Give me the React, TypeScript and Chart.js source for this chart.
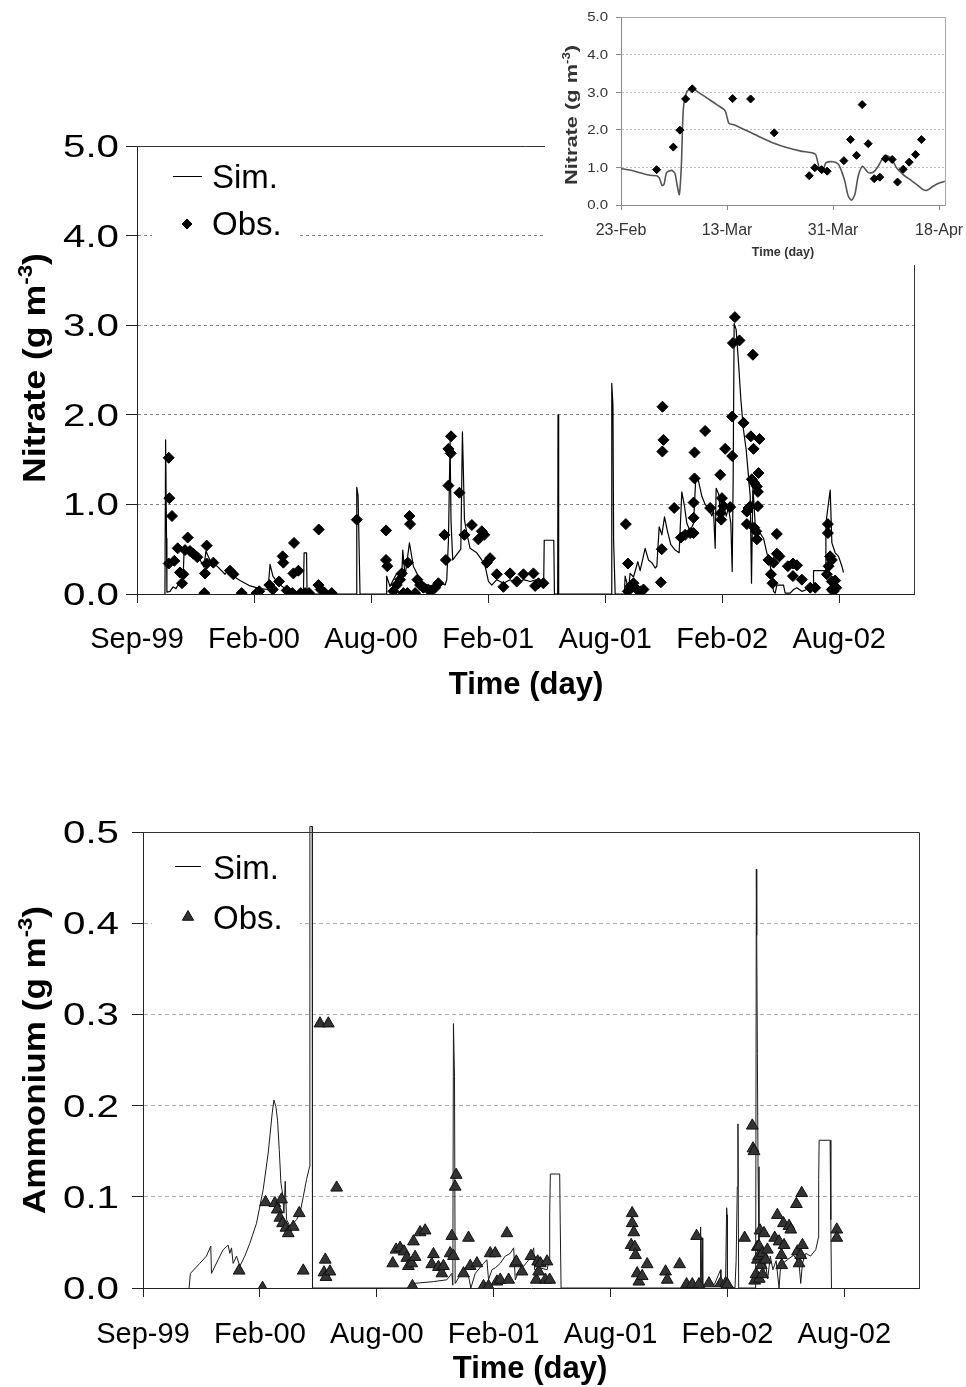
import React, { useEffect, useRef } from 'react';
import { Chart, registerables } from 'chart.js';

Chart.register(...registerables);

const FONT = '"Liberation Sans", Arial, Helvetica, sans-serif';

// ---------- Main time axis: days since 1 Sep 1999 (major unit 180 days) ----------
const timeTickDays = [0, 180, 360, 540, 720, 900, 1080];
const timeTickLabels = ['Sep-99', 'Feb-00', 'Aug-00', 'Feb-01', 'Aug-01', 'Feb-02', 'Aug-02'];
const timeAxisMax = 1195;

const nitrateTickValues = [0, 1, 2, 3, 4, 5];
const nitrateTickLabels = ['0.0', '1.0', '2.0', '3.0', '4.0', '5.0'];
const ammoniumTickValues = [0, 0.1, 0.2, 0.3, 0.4, 0.5];
const ammoniumTickLabels = ['0.0', '0.1', '0.2', '0.3', '0.4', '0.5'];

// ---------- Nitrate, simulated ----------
const nitrateSimDays = [
  43, 44, 45.4, 46, 50.8, 55.4, 60, 64.6, 70.8, 72.3, 78.5, 86, 97, 103, 106, 112, 124.6, 135.4, 140, 147.7,
  158.5, 174, 189, 201.5, 204.6, 209, 217, 227.7, 243, 256, 257, 260.8, 261.5, 337, 338, 340, 343, 383,
  384, 389, 399.5, 407, 408.7, 412.3, 419, 425, 435.4, 445.6, 455.9, 468.7, 473.8, 476.4, 479, 481.5, 483, 485.6,
  498, 500.5, 502, 503.6, 507.2, 512.3, 522.5, 530.2, 535.4, 540.5, 545.6, 553.3, 563.6, 573.8, 584.1, 594.3,
  604.6, 614.9, 625.5, 626.3, 641, 642, 647, 647.5, 648.5, 729.5, 730.2, 732, 733, 735.4, 749.7,
  750.7, 755.9, 758.4, 763.6, 770.2, 773.8, 781.5, 786.6, 791.8, 796.9, 799.5, 803.1, 807.2, 811.3, 815.9,
  821, 827.7, 833.8, 837.9, 842, 845.6, 850.7, 855.9, 859.5, 863.6, 868.7, 873.8, 879, 884.1, 886.6,
  889.2, 890.7, 894.8, 897.9, 902, 906.1, 909.7, 913.3, 915.4, 916.9, 918.4, 921.5, 925.1, 928.7, 932.8,
  936.9, 940.5, 943.1, 945.1, 947.2, 950.7, 954.3, 958.4, 963.6, 968.7, 972.8, 976.4, 978.9, 981.5, 984.1,
  994.3, 996.9, 1004.6, 1009.7, 1014.8, 1022.5, 1030.2, 1040, 1040.5, 1058.4, 1059.5, 1066.1, 1068.7, 1073.8,
  1078.9, 1084.1, 1086.6,
];
const nitrateSimValues = [
  0, 1.72, 0.62, 0.02, 0.03, 0.08, 0.06, 0.12, 0.15, 0.46, 0.5, 0.46, 0.38, 0.3, 0.48, 0.38, 0.3, 0.22, 0.27, 0.2,
  0.15, 0.09, 0.06, 0.05, 0.33, 0.2, 0.12, 0.06, 0.03, 0.02, 0.46, 0.46, 0, 0, 1.19, 1.1, 0, 0,
  0.2, 0.085, 0.23, 0.16, 0.49, 0.2, 0.57, 0.31, 0.16, 0.1, 0.085, 0.12, 0.1, 0.16, 0.6, 1.7, 0.8, 0.38,
  0.5, 1.81, 1.35, 0.83, 0.68, 0.51, 0.46, 0.38, 0.31, 0.14, 0.1, 0.16, 0.12, 0.16, 0.12, 0.16,
  0.14, 0.16, 0.14, 0.6, 0.6, 0, 0, 2.0, 0, 0, 2.35, 2.1, 0.6, 0, 0,
  0.2, 0.05, 0.23, 0.19, 0.36, 0.26, 0.51, 0.38, 0.35, 0.29, 0.31, 0.75, 0.66, 0.86, 0.7,
  0.55, 0.49, 0.46, 1.14, 0.98, 0.79, 0.7, 0.79, 1.31, 1.26, 1.09, 1.0, 0.96, 0.87, 0.94,
  0.51, 1.18, 1.11, 0.79, 1.01, 0.87, 0.96, 0.79, 0.25, 1.31, 3.02, 2.95, 2.58, 2.17, 1.83,
  1.61, 1.31, 1.09, 0.12, 1.2, 0.79, 0.64, 0.68, 0.62, 0.46, 0.35, 0.22, 0.03, 0.01, 0.1,
  0.1, 0.01, 0.01, 0.05, 0.07, 0.03, 0.05, 0.05, 0.26, 0.26, 0.79, 1.16, 0.57, 0.46,
  0.42, 0.31, 0.24,
];

// ---------- Nitrate, observed ----------
const nitrateObsDays = [
  48.8, 48.8, 49.7, 53.8, 57.4, 62.6, 66, 69.2, 71.3, 73.8, 78, 81.5, 86.6, 92.8, 103.5, 104.6, 107.2, 107.2, 117.4, 143,
  148.2, 161, 184, 188, 203.5, 208.8, 218.5, 224, 225, 230.3, 239, 240.5, 241.5, 248.2, 251.8, 258.5, 264.6, 279, 279.5, 282.6,
  289, 299.5, 338,
  383, 383, 385, 394.3, 399.5, 404.6, 407.2, 409.7, 415.8, 416.5, 419, 420, 427.7, 431.2, 435.4, 440.5, 448, 453.3, 458.5, 463.5,
  472.8, 475, 479, 479, 482.6, 483, 495.9, 503.6, 515, 525, 530.3, 534, 538, 543, 553.4, 563.5, 573.8, 584, 594.3, 609.7,
  612.3, 617.4, 625,
  751.8, 755, 755, 758.5, 763.6, 768.8, 774, 779, 805.7, 807, 808, 808.2, 809.7, 826.2, 836.5, 843, 850.8, 856, 856, 856,
  857.5, 857.5, 873.8, 881.5, 897, 897.5, 898.5, 899.6, 902, 904.6, 912.3, 915.4, 915.4, 916.5, 919.5, 926.6, 932.8, 938, 938, 940.5,
  943.1, 944.1, 945.6, 947.2, 948.2, 949.2, 949.2, 952.3, 953.3, 953.3, 954.9, 954.9, 955.9, 957.4, 971.2, 975, 977.4, 979, 984, 984,
  988, 1001, 1008.8, 1008.8, 1015, 1022.6, 1035.4, 1043, 1061, 1062.6, 1062.6, 1063.6, 1066, 1068.6, 1068.6, 1068.6, 1071.2, 1073.7, 1075.4,
];
const nitrateObsValues = [
  1.52, 0.34, 1.07, 0.87, 0.37, 0.51, 0.24, 0.12, 0.22, 0.49, 0.63, 0.48, 0.45, 0.41, 0.01, 0.23, 0.54, 0.34, 0.35, 0.26,
  0.22, 0.01, 0.01, 0.03, 0.1, 0.05, 0.14, 0.42, 0.35, 0.04, 0.01, 0.23, 0.57, 0.26, 0.01, 0.01, 0.01, 0.1, 0.72, 0.05,
  0.01, 0.01, 0.83,
  0.71, 0.38, 0.31, 0.03, 0.1, 0.16, 0.23, 0.01, 0.01, 0.35, 0.87, 0.78, 0.01, 0.16, 0.1, 0.07, 0.05, 0.04, 0.07, 0.12,
  0.66, 0.38, 1.21, 1.62, 1.57, 1.76, 1.13, 0.66, 0.77, 0.61, 0.7, 0.66, 0.35, 0.4, 0.22, 0.08, 0.23, 0.14, 0.22, 0.23,
  0.09, 0.12, 0.12,
  0.78, 0.34, 0.03, 0.085, 0.12, 0.05, 0.03, 0.05, 0.13, 0.5, 1.59, 2.09, 1.72, 0.96, 0.63, 0.66, 0.68, 0.68, 0.85, 1.02,
  1.29, 1.58, 1.82, 0.96, 1.33, 0.9, 0.83, 1.07, 0.98, 1.62, 0.97, 1.54, 1.98, 2.8, 3.09, 2.83, 1.91, 0.92, 0.78, 0.96,
  0.98, 1.76, 1.28, 2.67, 1.62, 1.24, 0.74, 0.7, 1.2, 0.61, 1.14, 0.98, 1.35, 1.73, 0.38, 0.22, 0.12, 0.35, 0.67, 0.45,
  0.42, 0.31, 0.34, 0.2, 0.32, 0.16, 0.07, 0.07, 0.22, 0.78, 0.68, 0.31, 0.42, 0.38, 0.14, 0.05, 0.03, 0.15, 0.07,
];

// ---------- Inset: days since 23 Feb 2002 ----------
const insetTickDays = [0, 18, 36, 54];
const insetTickLabels = ['23-Feb', '13-Mar', '31-Mar', '18-Apr'];
const insetAxisMax = 55;
const insetSimDays = [
  0, 1.53, 3.23, 4.92, 6.05, 6.5, 6.96, 7.3, 7.75, 8.6, 9.16, 9.56, 9.9, 10.24, 10.58, 11.14, 11.99, 12.84, 14.53, 16.23,
  17.65, 18.32, 19.06, 21.32, 23.58, 25.85, 28.11, 30.37, 32.63, 33.08, 33.65, 34.21, 34.78, 36.02, 36.87, 37.44, 38.0, 38.57, 39.13, 39.7,
  40.27, 41.0, 41.96, 42.81, 43.66, 44.79, 45.92, 46.77, 47.9, 49.03, 50.16, 51.29, 51.97, 52.99, 54.12, 54.97,
];
const insetSimValues = [
  0.97, 0.93, 0.86, 0.79, 0.78, 0.72, 0.52, 0.55, 0.86, 0.92, 0.84, 0.5, 0.28, 1.03, 2.54, 3.0, 3.11, 3.03, 2.85, 2.67,
  2.51, 2.17, 2.14, 1.98, 1.81, 1.65, 1.53, 1.44, 1.38, 1.33, 0.99, 0.86, 1.12, 1.15, 1.09, 0.9, 0.63, 0.24, 0.13, 0.28,
  0.77, 1.03, 0.86, 0.87, 1.03, 1.32, 1.23, 0.99, 0.81, 0.68, 0.55, 0.41, 0.39, 0.5, 0.59, 0.63,
];
const insetObsDays = [
  6.05, 8.88, 10.0, 10.97, 12.1, 18.95, 22.0, 26.0, 31.95, 32.9, 34.05, 35.0, 37.83, 38.96, 39.98, 40.94, 41.96, 42.98, 43.94, 44.9,
  46.03, 46.94, 47.9, 48.92, 50.0, 51.0,
];
const insetObsValues = [
  0.94, 1.54, 1.99, 2.82, 3.09, 2.83, 2.82, 1.92, 0.78, 0.99, 0.94, 0.9, 1.18, 1.74, 1.32, 2.67, 1.63, 0.7, 0.74, 1.23,
  1.21, 0.61, 0.95, 1.14, 1.34, 1.74,
];

// ---------- Ammonium, simulated ----------
const ammoniumSimDays = [
  71, 73, 87.4, 97.7, 104.4, 105.4, 115.7, 123.4, 131.1, 133.7, 136.3, 138.8, 144, 149.1, 156.8, 164.5, 174.8, 185.1, 192.8, 199,
  201.6, 204.6, 207.2, 209.8, 212.4, 214.9, 217, 219, 221.1, 226.2, 231.4, 236.5, 241.7, 246.8, 251.9, 256.5, 257, 260.5, 261, 414,
  416.5, 447.3, 467.9, 475.6, 477.1, 478.1, 479.7, 480.7, 485.9, 493.6, 501.3, 504.9, 511.6, 524.4, 529.6, 532.1, 537.3, 542.4, 550.1, 557.8,
  565.5, 570.8, 573.3, 578.5, 586.2, 596.5, 601.6, 603.2, 611.9, 622.2, 625.5, 626.3, 627.3, 641.7, 642.5, 643.8, 835,
  838, 858.3, 858.7, 859.5, 861, 862, 880, 889.5, 890, 897, 898.8, 899.5, 900, 911.6, 913.4, 915.2, 916.2, 917.3, 943.5, 944.5,
  945.1, 946.1, 947.1, 948.6, 952, 955, 958, 962, 966, 970, 975, 979.5, 982, 992.3, 1002, 1010.3, 1012.9, 1015.5, 1020.6, 1028,
  1036, 1040.1, 1040.5, 1041.2, 1058.1, 1059.2, 1060.2,
];
const ammoniumSimValues = [
  0, 0.016, 0.027, 0.035, 0.046, 0.016, 0.031, 0.042, 0.047, 0.038, 0.044, 0.027, 0.035, 0.024, 0.035, 0.049, 0.071, 0.108, 0.148, 0.192,
  0.206, 0.199, 0.184, 0.152, 0.115, 0.104, 0.082, 0.117, 0.075, 0.068, 0.071, 0.075, 0.082, 0.1, 0.119, 0.133, 0.506, 0.506, 0, 0,
  0.005, 0.007, 0.009, 0.016, 0.003, 0.29, 0.232, 0.005, 0.011, 0.02, 0.013, 0, 0.016, 0.027, 0.031, 0.009, 0.02, 0.022, 0.027, 0.035,
  0.038, 0.044, 0.009, 0.018, 0.024, 0.033, 0.044, 0.02, 0.022, 0.02, 0.03, 0.08, 0.125, 0.125, 0.072, 0, 0,
  0.003, 0.003, 0.067, 0.003, 0.055, 0.003, 0.004, 0.02, 0.004, 0.003, 0.088, 0.08, 0.004, 0, 0.03, 0.111, 0.18, 0, 0, 0.459,
  0.387, 0.257, 0.133, 0.042, 0.04, 0.015, 0.03, 0.01, 0.035, 0.02, 0.03, 0, 0.025, 0.031, 0.036, 0.027, 0.005, 0.027, 0.038, 0.035,
  0.042, 0.055, 0.119, 0.162, 0.162, 0.075, 0,
];

// ---------- Ammonium, observed ----------
const ammoniumObsDays = [
  148.1, 184.1, 188.7, 203.1, 206.7, 210.8, 213.4, 214.9, 220.1, 223.7, 231.4, 240.6, 246.8, 272.5, 278.7, 280.7, 281.8, 285.4, 287.9, 298.2,
  384.6, 389.7, 395.9, 402, 406.2, 408.7, 413.9, 414.9, 416.5, 419, 426.7, 434.5, 444.7, 447.3, 455, 460.2, 462.7, 473, 475.6, 478.1,
  480.7, 482.3, 493.6, 501.3, 503.9, 514.2, 524.4, 532.1, 534.7, 542.4, 545, 550.1, 560.4, 563, 573.3, 574.9, 583.6, 597.5, 605.7, 607.8,
  609.3, 611.9, 619.6, 622.2, 626.3,
  751.7, 753.3, 753.3, 755.8, 757.4, 758.4, 761, 763.6, 768.7, 776.4, 804.7, 807.3, 826.3, 837.1, 845.8, 852.5, 856.1, 871.5, 889.5, 897.2,
  899.8, 926.5, 938.3, 939.4, 940.9, 942, 944, 946, 946.1, 948, 948.6, 949, 950.2, 952, 953.8, 954, 956.3, 958.9, 961.5, 972.8,
  976.9, 979.5, 983.1, 983.6, 986.2, 987.2, 994.9, 997.5, 1006.2, 1007.8, 1010.3, 1012.9, 1014.4, 1015.5, 1068.4, 1068.4,
];
const ammoniumObsValues = [
  0.019, 0.0, 0.094, 0.093, 0.086, 0.077, 0.097, 0.071, 0.066, 0.06, 0.067, 0.082, 0.019, 0.29, 0.017, 0.031, 0.012, 0.29, 0.018, 0.11,
  0.027, 0.042, 0.044, 0.04, 0.033, 0.024, 0.027, 0.002, 0.051, 0.034, 0.061, 0.063, 0.026, 0.037, 0.023, 0.016, 0.024, 0.038, 0.057, 0.035,
  0.111, 0.124, 0.016, 0.055, 0.024, 0.027, 0.002, 0.002, 0.038, 0.038, 0.007, 0.009, 0.06, 0.009, 0.027, 0.029, 0.018, 0.035, 0.009, 0.029,
  0.018, 0.027, 0.009, 0.029, 0.009,
  0.047, 0.082, 0.071, 0.061, 0.045, 0.036, 0.016, 0.007, 0.013, 0.026, 0.018, 0.009, 0.026, 0.004, 0.004, 0.057, 0.004, 0.005, 0.005, 0.005,
  0.004, 0.055, 0.178, 0.153, 0.15, 0.008, 0.015, 0.045, 0.031, 0.035, 0.046, 0.01, 0.063, 0.025, 0.038, 0.015, 0.06, 0.031, 0.042, 0.055,
  0.08, 0.051, 0.036, 0.025, 0.071, 0.047, 0.068, 0.064, 0.092, 0.04, 0.027, 0.036, 0.104, 0.047, 0.064, 0.055,
];

// ---------- helpers ----------
const pts = (xs: number[], ys: number[]) => xs.map((x, i) => ({ x, y: ys[i] }));

function capText(
  ctx: CanvasRenderingContext2D, s: string, x: number, cy: number, size: number,
  align: CanvasTextAlign, sx = 1, bold = false, color = '#000'
) {
  ctx.save();
  ctx.font = `${bold ? 'bold ' : ''}${size}px ${FONT}`;
  ctx.fillStyle = color;
  ctx.textAlign = align;
  ctx.textBaseline = 'alphabetic';
  ctx.translate(x, cy + size * 0.358);
  ctx.scale(sx, 1);
  ctx.fillText(s, 0, 0);
  ctx.restore();
}

function rotatedTitle(
  ctx: CanvasRenderingContext2D, cx: number, cy: number, pre: string, sup: string, post: string,
  size: number, length: number, color = '#000'
) {
  ctx.save();
  ctx.translate(cx, cy);
  ctx.rotate(-Math.PI / 2);
  const big = `bold ${size}px ${FONT}`;
  const small = `bold ${Math.round(size * 0.62)}px ${FONT}`;
  ctx.font = big;
  const w1 = ctx.measureText(pre).width;
  const w3 = ctx.measureText(post).width;
  ctx.font = small;
  const w2 = ctx.measureText(sup).width;
  const total = w1 + w2 + w3;
  ctx.scale(length / total, 1);
  ctx.fillStyle = color;
  ctx.textAlign = 'left';
  ctx.textBaseline = 'alphabetic';
  const base = size * 0.358;
  let x = -total / 2;
  ctx.font = big; ctx.fillText(pre, x, base); x += w1;
  ctx.font = small; ctx.fillText(sup, x, base - size * 0.42); x += w2;
  ctx.font = big; ctx.fillText(post, x, base);
  ctx.restore();
}

function marker(ctx: CanvasRenderingContext2D, kind: 'diamond' | 'triangle', x: number, y: number, r: number, fill: string, stroke: string) {
  ctx.save();
  ctx.beginPath();
  if (kind === 'diamond') {
    ctx.moveTo(x, y - r); ctx.lineTo(x + r, y); ctx.lineTo(x, y + r); ctx.lineTo(x - r, y);
  } else {
    const h = r * Math.sin(Math.PI / 3);
    ctx.moveTo(x, y - r); ctx.lineTo(x + h, y + r / 2); ctx.lineTo(x - h, y + r / 2);
  }
  ctx.closePath();
  ctx.fillStyle = fill; ctx.fill();
  ctx.strokeStyle = stroke; ctx.lineWidth = 1; ctx.stroke();
  ctx.restore();
}

function frame(ctx: CanvasRenderingContext2D, a: any, color: string) {
  ctx.save();
  ctx.strokeStyle = color;
  ctx.lineWidth = 1;
  const t = Math.round(a.top) + 0.5;
  const r = Math.round(a.right) + 0.5;
  ctx.beginPath();
  ctx.moveTo(Math.round(a.left), t);
  ctx.lineTo(r, t);
  ctx.lineTo(r, Math.round(a.bottom) + 1);
  ctx.stroke();
  ctx.restore();
}

function yScale(max: number, step: number, gridColor: string, dash: number[], axisColor: string, tickLen: number, width: number) {
  return {
    min: 0,
    max,
    ticks: { display: false, stepSize: step },
    grid: {
      color: (c: any) => {
        const v = c.tick ? c.tick.value : 0;
        return v < 1e-9 || v > max - 1e-9 ? 'rgba(0,0,0,0)' : gridColor;
      },
      tickColor: axisColor,
      tickLength: tickLen,
      lineWidth: 1,
      drawTicks: true,
    },
    border: { color: axisColor, width: 1, dash },
    afterFit: (s: any) => { s.width = width; },
  };
}

function xScale(max: number, tickDays: number[], axisColor: string, tickLen: number, height: number) {
  return {
    type: 'linear' as const,
    min: 0,
    max,
    afterBuildTicks: (s: any) => { s.ticks = tickDays.map((v) => ({ value: v })); },
    ticks: { display: false },
    grid: { drawOnChartArea: false, drawTicks: true, tickLength: tickLen, tickColor: axisColor, color: axisColor },
    border: { color: axisColor, width: 1 },
    afterFit: (s: any) => { s.height = height; },
  };
}

// ---------- charts ----------
function buildNitrate(canvas: HTMLCanvasElement) {
  const decor = {
    id: 'nitrateDecor',
    afterDraw(chart: any) {
      const { ctx, chartArea: a, scales } = chart;
      const x = scales.x, y = scales.y;
      frame(ctx, a, '#333');
      nitrateTickValues.forEach((v, i) => capText(ctx, nitrateTickLabels[i], 119, y.getPixelForValue(v), 31, 'right', 1.3));
      timeTickDays.forEach((d, i) => capText(ctx, timeTickLabels[i], x.getPixelForValue(d), 638, 29, 'center'));
      capText(ctx, 'Time (day)', 526, 683, 31, 'center', 1, true);
      rotatedTitle(ctx, 33.5, 368, 'Nitrate (g m', '-3', ')', 32, 230);
      // legend
      ctx.save();
      ctx.fillStyle = '#fff';
      ctx.fillRect(152, 150, 148, 98);
      ctx.strokeStyle = '#000'; ctx.lineWidth = 1;
      ctx.beginPath(); ctx.moveTo(173, 176.5); ctx.lineTo(202, 176.5); ctx.stroke();
      ctx.restore();
      capText(ctx, 'Sim.', 212, 176, 33, 'left');
      marker(ctx, 'diamond', 187, 224, 5, '#000', '#000');
      capText(ctx, 'Obs.', 212, 223, 33, 'left');
    },
  };
  return new Chart(canvas, {
    type: 'scatter',
    data: {
      datasets: [
        {
          label: 'Sim.', data: pts(nitrateSimDays, nitrateSimValues), showLine: true, pointRadius: 0,
          borderColor: '#000', borderWidth: 1.2, borderJoinStyle: 'round', tension: 0, order: 1,
        } as any,
        {
          label: 'Obs.', data: pts(nitrateObsDays, nitrateObsValues), pointStyle: 'rectRot', pointRadius: 5.5,
          backgroundColor: '#000', borderColor: '#000', borderWidth: 1, order: 0,
        } as any,
      ],
    },
    options: {
      responsive: false,
      animation: false,
      events: [],
      layout: { padding: { top: 146, left: 0, right: 52, bottom: 56 } },
      plugins: { legend: { display: false }, tooltip: { enabled: false } },
      scales: {
        x: xScale(timeAxisMax, timeTickDays, '#222', 9, 70),
        y: yScale(5, 1, '#858585', [3, 3], '#222', 11, 137),
      } as any,
    },
    plugins: [decor],
  });
}

function buildInset(canvas: HTMLCanvasElement) {
  const decor = {
    id: 'insetDecor',
    beforeDraw(chart: any) {
      const { ctx, width, height } = chart;
      ctx.save(); ctx.fillStyle = '#fff'; ctx.fillRect(0, 0, width, height); ctx.restore();
    },
    afterDraw(chart: any) {
      const { ctx, chartArea: a, scales } = chart;
      const x = scales.x, y = scales.y;
      frame(ctx, a, '#a8a8a8');
      nitrateTickValues.forEach((v, i) => capText(ctx, nitrateTickLabels[i], 63, y.getPixelForValue(v), 12.5, 'right', 1.2, false, '#333'));
      insetTickDays.forEach((d, i) => capText(ctx, insetTickLabels[i], x.getPixelForValue(d), 229, 16, 'center', 1, false, '#333'));
      capText(ctx, 'Time (day)', 238, 252, 12.5, 'center', 1, true, '#333');
      rotatedTitle(ctx, 26, 115, 'Nitrate (g m', '-3', ')', 16.5, 140, '#333');
    },
  };
  return new Chart(canvas, {
    type: 'scatter',
    data: {
      datasets: [
        {
          label: 'Sim.', data: pts(insetSimDays, insetSimValues), showLine: true, pointRadius: 0,
          borderColor: '#555', borderWidth: 1.6, borderJoinStyle: 'round', tension: 0.25, order: 1,
        } as any,
        {
          label: 'Obs.', data: pts(insetObsDays, insetObsValues), pointStyle: 'rectRot', pointRadius: 4,
          backgroundColor: '#000', borderColor: '#000', borderWidth: 1, order: 0,
        } as any,
      ],
    },
    options: {
      responsive: false,
      animation: false,
      events: [],
      layout: { padding: { top: 17, left: 0, right: 21, bottom: 0 } },
      plugins: { legend: { display: false }, tooltip: { enabled: false } },
      scales: {
        x: xScale(insetAxisMax, insetTickDays, '#888', 5, 60),
        y: yScale(5, 1, '#bdbdbd', [2, 2], '#888', 5, 76),
      } as any,
    },
    plugins: [decor],
  });
}

function buildAmmonium(canvas: HTMLCanvasElement) {
  const decor = {
    id: 'ammoniumDecor',
    afterDraw(chart: any) {
      const { ctx, chartArea: a, scales } = chart;
      const x = scales.x, y = scales.y;
      frame(ctx, a, '#333');
      ammoniumTickValues.forEach((v, i) => capText(ctx, ammoniumTickLabels[i], 119, y.getPixelForValue(v), 31, 'right', 1.3));
      timeTickDays.forEach((d, i) => capText(ctx, timeTickLabels[i], x.getPixelForValue(d), 573, 29, 'center'));
      capText(ctx, 'Time (day)', 530, 607, 31, 'center', 1, true);
      rotatedTitle(ctx, 34, 300, 'Ammonium (g m', '-3', ')', 32, 308);
      ctx.save();
      ctx.fillStyle = '#fff';
      ctx.fillRect(152, 85, 148, 95);
      ctx.strokeStyle = '#000'; ctx.lineWidth = 1;
      ctx.beginPath(); ctx.moveTo(175, 106.5); ctx.lineTo(201, 106.5); ctx.stroke();
      ctx.restore();
      capText(ctx, 'Sim.', 213, 107.5, 33, 'left');
      marker(ctx, 'triangle', 188, 157, 6.5, '#333', '#111');
      capText(ctx, 'Obs.', 213, 156.7, 33, 'left');
    },
  };
  return new Chart(canvas, {
    type: 'scatter',
    data: {
      datasets: [
        {
          label: 'Sim.', data: pts(ammoniumSimDays, ammoniumSimValues), showLine: true, pointRadius: 0,
          borderColor: '#1a1a1a', borderWidth: 1, borderJoinStyle: 'round', tension: 0, clip: false, order: 1,
        } as any,
        {
          label: 'Obs.', data: pts(ammoniumObsDays, ammoniumObsValues), pointStyle: 'triangle', pointRadius: 6.8,
          backgroundColor: '#333', borderColor: '#111', borderWidth: 1, order: 0,
        } as any,
      ],
    },
    options: {
      responsive: false,
      animation: false,
      events: [],
      layout: { padding: { top: 72, left: 0, right: 47, bottom: 29 } },
      plugins: { legend: { display: false }, tooltip: { enabled: false } },
      scales: {
        x: xScale(timeAxisMax, timeTickDays, '#222', 9, 70),
        y: yScale(0.5, 0.1, '#ababab', [4, 3], '#222', 11, 143),
      } as any,
    },
    plugins: [decor],
  });
}

export default function App() {
  const topRef = useRef<HTMLCanvasElement>(null);
  const insetRef = useRef<HTMLCanvasElement>(null);
  const bottomRef = useRef<HTMLCanvasElement>(null);

  useEffect(() => {
    const charts = [
      buildNitrate(topRef.current as HTMLCanvasElement),
      buildAmmonium(bottomRef.current as HTMLCanvasElement),
      buildInset(insetRef.current as HTMLCanvasElement),
    ];
    return () => charts.forEach((c) => c.destroy());
  }, []);

  return (
    <div style={{ position: 'absolute', left: 0, top: 0, width: 966, height: 1387, overflow: 'hidden', background: '#fff' }}>
      <canvas ref={topRef} width={966} height={720} style={{ position: 'absolute', left: 0, top: 0, width: 966, height: 720 }} />
      <canvas ref={bottomRef} width={966} height={627} style={{ position: 'absolute', left: 0, top: 760, width: 966, height: 627 }} />
      <canvas ref={insetRef} width={421} height={265} style={{ position: 'absolute', left: 545, top: 0, width: 421, height: 265 }} />
    </div>
  );
}
